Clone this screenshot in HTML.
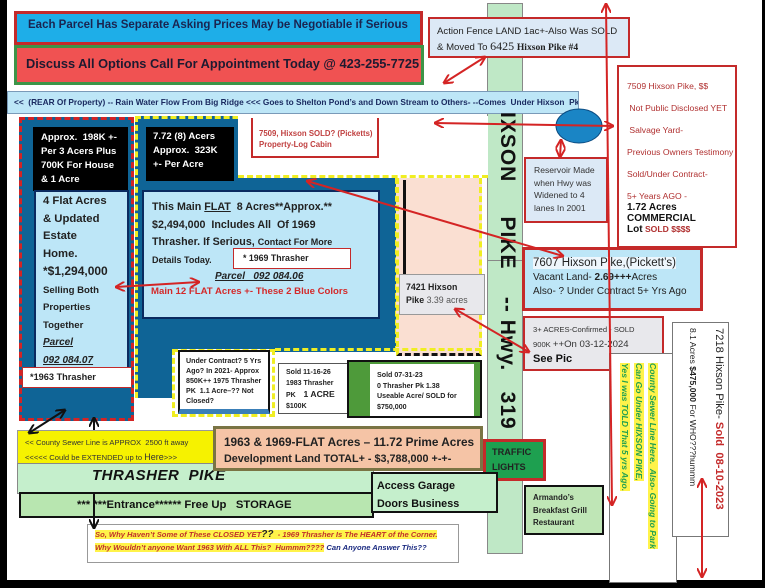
<!DOCTYPE html>
<html><head><meta charset="utf-8"><style>
*{margin:0;padding:0;box-sizing:border-box}
body{width:765px;height:588px;position:relative;overflow:hidden;background:#fff;font-family:"Liberation Sans",sans-serif;}
.a{position:absolute}
.b{font-weight:bold}
.vt{writing-mode:vertical-rl;}
</style></head><body>
<div class="a" style="left:0;top:0;width:7px;height:588px;background:#000"></div>
<div class="a" style="left:0;top:580px;width:765px;height:8px;background:#000"></div>
<div class="a" style="left:762px;top:0;width:3px;height:588px;background:#000"></div>

<div class="a b" style="left:14px;top:11px;width:409px;height:34px;background:#1eaee8;border:3px solid #c42a2a;font-size:11.5px;color:#1a2450;padding:5px 0 0 11px;white-space:nowrap;overflow:hidden">Each Parcel Has Separate Asking Prices May be Negotiable if Serious</div>
<div class="a b" style="left:14px;top:45px;width:410px;height:40px;background:#f05252;border:3px solid #3d9448;font-size:12.8px;color:#1e1a30;padding:8px 0 0 9px;white-space:nowrap">Discuss All Options Call For Appointment Today @ 423-255-7725</div>

<div class="a" style="left:487px;top:3px;width:36px;height:262px;background:#bfe8c6;border:1px solid #888"></div>
<div class="a" style="left:487px;top:260px;width:36px;height:294px;background:#bfe8c6;border:1px solid #888"></div>

<div class="a b" style="left:7px;top:91px;width:572px;height:23px;background:#bde6f7;border:1px solid #7a9ab8;font-size:8.3px;color:#1a2a60;padding:5px 0 0 6px;white-space:nowrap;overflow:hidden">&lt;&lt;&nbsp; (REAR Of Property) -- Rain Water Flow From Big Ridge &lt;&lt;&lt; Goes to Shelton Pond’s and Down Stream to Others- --Comes&nbsp; Under Hixson&nbsp; Pk &gt;&gt;</div>

<div class="a b vt" style="left:490px;top:112px;width:32px;height:300px;font-size:21px;color:#111;line-height:30px;white-space:nowrap;letter-spacing:1px">IXSON&nbsp;&nbsp;&nbsp;&nbsp; PIKE&nbsp;&nbsp;&nbsp; -- Hwy.&nbsp;&nbsp; 319</div>

<div class="a" style="left:428px;top:17px;width:202px;height:41px;background:#dce9f6;border:2px solid #c42a2a;font-size:9.6px;color:#222;padding:5px 0 0 7px;line-height:15px">Action Fence LAND 1ac+-Also Was SOLD<br>&amp; Moved To <span style="font-family:'Liberation Serif',serif;font-size:12px">6425</span> <b style="font-family:'Liberation Serif',serif">Hixson Pike #4</b></div>

<div class="a" style="left:617px;top:65px;width:120px;height:183px;background:#fff;border:2px solid #c42a2a;font-size:8.6px;color:#b03030;padding:14px 0 0 8px;line-height:11px">7509 Hixson Pike, $$<br><br>&nbsp;Not Public Disclosed YET<br><br>&nbsp;Salvage Yard-<br><br>Previous Owners Testimony<br><br>Sold/Under Contract-<br><br>5+ Years AGO -<br><b style="color:#111;font-size:10px">1.72 Acres<br>COMMERCIAL<br>Lot</b> <b>SOLD $$$$</b></div>

<div class="a" style="left:524px;top:157px;width:84px;height:66px;background:#dce9f6;border:2px solid #c42a2a;font-size:8.6px;color:#333;padding:5px 0 0 8px;line-height:12.5px">Reservoir Made when Hwy was Widened to 4 lanes In 2001</div>

<div class="a" style="left:400px;top:135px;width:85px;height:43px;background:#e8e8ec;border:2px solid #c42a2a;font-size:8.4px;color:#b03030;text-align:center;padding:14px 0 0 0;line-height:10px">7433 Hixson Pike<br>1 ACRE- SOLD??</div>

<!-- left parcel -->
<div class="a" style="left:19px;top:117px;width:115px;height:304px;background:#0f6496;border:3px dashed #d42424"></div>
<div class="a b" style="left:33px;top:127px;width:95px;height:64px;background:#000;color:#fff;font-size:9.6px;padding:4px 0 0 8px;line-height:14px">Approx.&nbsp; 198K +-<br>Per 3 Acers Plus<br>700K For House<br>&amp; 1 Acre</div>
<div class="a b" style="left:34px;top:190px;width:95px;height:180px;background:#bde6f7;border:2px solid #0a2a60;color:#222;font-size:11.3px;padding:1px 0 0 7px;line-height:17.5px">4 Flat Acres<br>&amp; Updated<br>Estate<br>Home.<br><span style="font-size:12px">*$1,294,000</span><br><span style="font-size:9.6px;line-height:14px">Selling Both<br>Properties<br>Together</span><br><i style="font-size:10px;text-decoration:underline;line-height:14px">Parcel<br>092 084.07</i></div>
<div class="a b" style="left:22px;top:367px;width:110px;height:21px;background:#fff;border:1px solid #c42a2a;font-size:9.2px;color:#222;padding:4px 0 0 7px">*1963 Thrasher</div>

<!-- main region -->
<div class="a" style="left:135px;top:116px;width:263px;height:236px;background:#0f6496;border:3px dashed #f0ee22;border-bottom:none"></div>
<div class="a" style="left:135px;top:340px;width:40px;height:58px;background:#0f6496;border-left:3px dashed #f0ee22"></div>
<div class="a" style="left:238px;top:116px;width:250px;height:62px;background:#fff;border-bottom:3px dashed #f0ee22"></div>
<div class="a" style="left:251px;top:118px;width:128px;height:40px;background:#fff;border:2px solid #c42a2a;border-top:none;font-size:7.8px;color:#c04040;font-weight:bold;padding:10px 0 0 6px;line-height:11px;white-space:nowrap">7509, Hixson SOLD? (Picketts)<br>Property-Log Cabin</div>
<div class="a b" style="left:146px;top:127px;width:88px;height:54px;background:#000;color:#fff;font-size:9.6px;padding:3px 0 0 7px;line-height:14px">7.72 (8) Acers<br>Approx.&nbsp; 323K<br>+- Per Acre</div>
<div class="a b" style="left:142px;top:190px;width:238px;height:129px;background:#bde6f7;border:2px solid #0a2a60;color:#222;font-size:10.7px;padding:7px 0 0 8px;line-height:17.5px">This Main <u>FLAT</u>&nbsp; 8 Acres**Approx.**<br>$2,494,000&nbsp; Includes All&nbsp; Of 1969<br>Thrasher. If Serious, <span style="font-size:9px">Contact For More</span><br><span style="font-size:9px">Details Today.</span></div>
<div class="a b" style="left:233px;top:248px;width:118px;height:21px;background:#fff;border:1px solid #c42a2a;font-size:8.8px;color:#222;padding:4px 0 0 9px">* 1969 Thrasher</div>
<div class="a b" style="left:215px;top:271px;font-size:10px;color:#222"><i style="text-decoration:underline">Parcel&nbsp;&nbsp; 092 084.06</i></div>
<div class="a b" style="left:151px;top:286px;font-size:9.6px;color:#d42a2a;white-space:nowrap">Main 12 FLAT Acres +- These 2 Blue Colors</div>

<!-- peach -->
<div class="a" style="left:396px;top:178px;width:86px;height:178px;background:#fadfd2;border-left:3px dashed #f0ee22;border-right:3px dashed #f0ee22;border-bottom:3px dashed #111"></div>
<div class="a" style="left:403px;top:180px;width:3px;height:95px;background:#111"></div>
<div class="a" style="left:399px;top:274px;width:86px;height:41px;background:#e8e8ec;border:1px solid #999;font-size:8.8px;color:#222;padding:6px 0 0 6px;line-height:13px"><b>7421 Hixson<br>Pike</b> <span style="color:#555">3.39 acres</span></div>
<div class="a" style="left:172px;top:349px;width:103px;height:68px;border:3px dashed #f0ee22;background:#fff"></div>
<div class="a" style="left:275px;top:348px;width:206px;height:3px;border-top:3px dashed #f0ee22"></div>

<div class="a b" style="left:178px;top:350px;width:92px;height:64px;background:#fff;border:2px solid #111;border-bottom:5px solid #3a7fb8;font-size:7.1px;color:#222;padding:4px 0 0 6px;line-height:10px">Under Contract? 5 Yrs Ago? In 2021- Approx 850K++ 1975 Thrasher PK&nbsp; 1.1 Acre–?? Not Closed?</div>
<div class="a b" style="left:278px;top:363px;width:70px;height:51px;background:#fff;border:1px solid #555;font-size:7px;color:#222;padding:4px 0 0 7px;line-height:10.5px">Sold 11-16-26<br>1983 Thrasher<br>PK&nbsp;&nbsp;&nbsp; <span style="font-size:8.6px">1 ACRE</span><br>$100K</div>
<div class="a" style="left:347px;top:360px;width:135px;height:58px;background:#4e9a3a;border:2px solid #111"></div>
<div class="a b" style="left:370px;top:364px;width:104px;height:52px;background:#fff;font-size:7.1px;color:#222;padding:6px 0 0 7px;line-height:10.5px">Sold 07-31-23<br>0 Thrasher Pk 1.38<br>Useable Acre/ SOLD for<br>$750,000</div>

<!-- bottom -->
<div class="a" style="left:17px;top:430px;width:200px;height:34px;background:#f6f200;border:1px solid #999;font-size:7.6px;color:#333;padding:5px 0 0 7px;line-height:14px">&lt;&lt; County Sewer Line is APPROX&nbsp; 2500 ft away<br>&lt;&lt;&lt;&lt;&lt; Could be EXTENDED up to <span style="font-size:9px">Here</span>&gt;&gt;&gt;</div>
<div class="a" style="left:17px;top:463px;width:357px;height:31px;background:#c5efcc;border:1px solid #888"></div>
<div class="a b" style="left:92px;top:467px;font-size:15px;font-style:italic;color:#111;letter-spacing:0.5px">THRASHER&nbsp; PIKE</div>
<div class="a b" style="left:19px;top:492px;width:355px;height:26px;background:#b8e6b0;border:2px solid #111;font-size:11.3px;color:#111;padding:5px 0 0 56px;white-space:nowrap">*** ***Entrance****** Free Up&nbsp;&nbsp; STORAGE</div>
<div class="a b" style="left:213px;top:426px;width:270px;height:45px;background:#f5c4a6;border:3px solid #7a7444;font-size:10.8px;color:#222;padding:5px 0 0 8px;line-height:16px"><span style="font-size:11.8px">1963 &amp; 1969-FLAT Acres – 11.72 Prime Acres</span><br>Development Land TOTAL+ - $3,788,000 +-+-</div>
<div class="a b" style="left:483px;top:439px;width:63px;height:42px;background:#1ea050;border:3px solid #c42a2a;font-size:9.2px;color:#222;padding:3px 0 0 6px;line-height:15px">TRAFFIC<br>LIGHTS</div>
<div class="a b" style="left:371px;top:472px;width:127px;height:41px;background:#c5efcc;border:2px solid #111;font-size:10.8px;color:#111;padding:3px 0 0 4px;line-height:18px">Access Garage<br>Doors Business</div>
<div class="a b" style="left:524px;top:485px;width:80px;height:50px;background:#bfe6b6;border:2px solid #111;font-size:7.9px;color:#222;padding:5px 0 0 7px;line-height:12.5px">Armando’s<br>Breakfast Grill<br>Restaurant</div>
<div class="a b" style="left:87px;top:524px;width:372px;height:39px;background:#fff;border:1px solid #999;font-size:7.6px;font-style:italic;padding:3px 0 0 7px;line-height:13px;white-space:nowrap"><span style="background:#fff34a;color:#c0302a">So, Why Haven’t Some of These CLOSED YET<span style="font-size:10px;color:#222">??</span>&nbsp; - 1969 Thrasher Is The HEART of the Corner.</span><br><span style="background:#fff34a;color:#c0302a">Why Wouldn’t anyone Want 1963 With ALL This?&nbsp; Hummm????</span> <span style="color:#1a2a80">Can Anyone Answer This??</span></div>

<!-- right side -->
<div class="a" style="left:522px;top:247px;width:181px;height:64px;background:#bde6f7;border:3px solid #c42a2a;font-size:10px;color:#222;padding:6px 0 0 8px;line-height:14px"><span style="font-size:11.5px;background:#eef6fc">7607 Hixson Pike,(Pickett’s)</span><br>Vacant Land- <b>2.69+++</b>Acres<br>Also- ? Under Contract 5+ Yrs Ago</div>
<div class="a" style="left:523px;top:316px;width:141px;height:55px;background:#e8e8ec;border:2px solid #c42a2a;font-size:7.6px;color:#333;padding:4px 0 0 8px;line-height:15px">3+ ACRES-Confirmed - SOLD<br>900K <span style="font-size:9.6px">++On 03-12-2024</span><br><b style="font-size:11px;color:#111">See Pic</b></div>
<div class="a" style="left:609px;top:353px;width:68px;height:230px;background:#fff;border:1px solid #777"></div>
<div class="a b vt" style="left:618px;top:363px;height:220px;font-size:8.6px;font-style:italic;color:#22a050;line-height:14px;white-space:nowrap"><span style="background:#fff34a">County Sewer Line Here.&nbsp; Also- Going to Park</span><br><span style="background:#fff34a">Can Go Under HIXSON PIKE,</span><br><span style="background:#fff34a">Yes I was TOLD That 5 yrs Ago.</span></div>
<div class="a" style="left:672px;top:322px;width:57px;height:215px;background:#fff;border:1px solid #777"></div>
<div class="a vt" style="left:680px;top:328px;height:205px;font-size:10.5px;color:#222;line-height:26px;white-space:nowrap"><span style="font-size:11.2px">7218 Hixson Pike- <b style="color:#c42a2a">Sold&nbsp; 08-10-2023</b></span><br><span style="font-size:8.6px">8.1 Acres <b>$475,000</b> For WHO???hummm</span></div>

<svg class="a" style="left:0;top:0" width="765" height="588">
<defs>
<marker id="r" viewBox="0 0 10 10" refX="9" refY="5" markerWidth="5" markerHeight="5" orient="auto-start-reverse"><path d="M0,0L10,5L0,10" fill="none" stroke="#d42424" stroke-width="2"/></marker>
<marker id="k" viewBox="0 0 10 10" refX="9" refY="5" markerWidth="5" markerHeight="5" orient="auto-start-reverse"><path d="M0,0L10,5L0,10" fill="none" stroke="#111" stroke-width="2"/></marker>
</defs>
<ellipse cx="579" cy="126" rx="23" ry="17" fill="#1a85c5" stroke="#0a4a80"/>
<g stroke="#d42424" stroke-width="2" fill="none">
<line x1="485" y1="57" x2="444" y2="83" marker-start="url(#r)" marker-end="url(#r)"/>
<line x1="435" y1="123" x2="613" y2="126" marker-start="url(#r)" marker-end="url(#r)"/>
<line x1="561" y1="140" x2="560" y2="157" marker-start="url(#r)" marker-end="url(#r)"/>
<line x1="307" y1="181" x2="563" y2="256" marker-start="url(#r)" marker-end="url(#r)"/>
<line x1="455" y1="309" x2="529" y2="352" marker-start="url(#r)" marker-end="url(#r)"/>
<line x1="116" y1="287" x2="199" y2="282" marker-start="url(#r)" marker-end="url(#r)"/>
<line x1="606" y1="4" x2="612" y2="505" marker-start="url(#r)" marker-end="url(#r)"/>
<line x1="702" y1="479" x2="702" y2="577" marker-start="url(#r)" marker-end="url(#r)"/>
</g>
<g stroke="#111" stroke-width="2" fill="none">
<line x1="29" y1="433" x2="65" y2="410" marker-start="url(#k)" marker-end="url(#k)"/>
<line x1="94" y1="430" x2="94" y2="418" marker-end="url(#k)"/>
<line x1="94" y1="493" x2="94" y2="528" marker-end="url(#k)"/>
</g>
</svg>
</body></html>
